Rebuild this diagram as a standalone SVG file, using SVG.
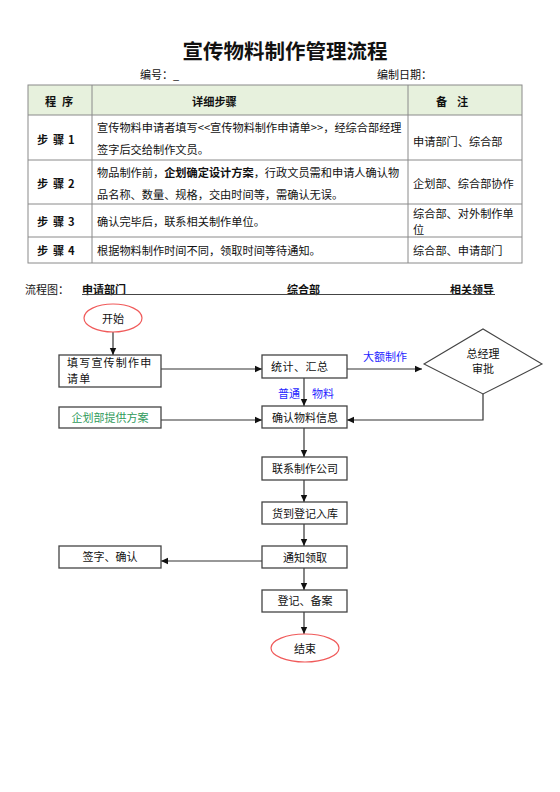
<svg xmlns="http://www.w3.org/2000/svg" width="560" height="792" viewBox="0 0 560 792">
<style>
text{font-family:"Noto Sans CJK SC","Liberation Sans",sans-serif;font-size:11px;fill:#111;dominant-baseline:central}
.title{font-size:20.5px;font-weight:bold;text-anchor:middle}
.t{font-size:11.2px}
.b{font-weight:bold}
.c{text-anchor:middle}
.tl{fill:none;stroke:#8a8a8a;stroke-width:1}
.box{fill:#fff;stroke:#444;stroke-width:1.3}
.ell{fill:#fff;stroke:#f05a5a;stroke-width:1.2}
.con{fill:none;stroke:#333;stroke-width:1.2}
.blue{fill:#1f1fff}
.green{fill:#2e9a5a}
</style>
<defs>
<marker id="ar" markerWidth="8" markerHeight="8" refX="7" refY="4" orient="auto" markerUnits="userSpaceOnUse">
<path d="M0,0.8 L7,4 L0,7.2 Z" fill="#111"/>
</marker>
</defs>
<rect width="560" height="792" fill="#fff"/>
<g id="header">
<text class="title" x="285" y="50">宣传物料制作管理流程</text>
<text x="140" y="74">编号：_</text>
<text x="377" y="74">编制日期：</text>
</g>
<g id="table">
<rect x="28" y="85" width="494" height="30" fill="#e7f1dd"/>
<rect class="tl" x="28" y="85" width="494" height="178"/>
<line class="tl" x1="92" y1="85" x2="92" y2="263"/>
<line class="tl" x1="408" y1="85" x2="408" y2="263"/>
<line class="tl" x1="28" y1="115" x2="522" y2="115"/>
<line class="tl" x1="28" y1="160" x2="522" y2="160"/>
<line class="tl" x1="28" y1="204" x2="522" y2="204"/>
<line class="tl" x1="28" y1="237" x2="522" y2="237"/>
<text class="b t" y="101"><tspan x="45">程</tspan><tspan x="62">序</tspan></text>
<text class="b t" x="192" y="101">详细步骤</text>
<text class="b t" y="101"><tspan x="436">备</tspan><tspan x="457">注</tspan></text>
<text class="b t" y="139"><tspan x="37">步</tspan><tspan x="53">骤</tspan><tspan x="68">1</tspan></text>
<text class="t" x="97" y="127">宣传物料申请者填写&lt;&lt;宣传物料制作申请单&gt;&gt;，经综合部经理</text>
<text class="t" x="97" y="149">签字后交给制作文员。</text>
<text class="t" x="413" y="141">申请部门、综合部</text>
<text class="b t" y="183"><tspan x="37">步</tspan><tspan x="53">骤</tspan><tspan x="68">2</tspan></text>
<text class="t" x="97" y="172">物品制作前，<tspan class="b">企划确定设计方案</tspan>，行政文员需和申请人确认物</text>
<text class="t" x="97" y="194">品名称、数量、规格，交由时间等，需确认无误。</text>
<text class="t" x="413" y="183">企划部、综合部协作</text>
<text class="b t" y="221"><tspan x="37">步</tspan><tspan x="53">骤</tspan><tspan x="68">3</tspan></text>
<text class="t" x="97" y="221">确认完毕后，联系相关制作单位。</text>
<text class="t" x="413" y="213">综合部、对外制作单</text>
<text class="t" x="413" y="229">位</text>
<text class="b t" y="250"><tspan x="37">步</tspan><tspan x="53">骤</tspan><tspan x="68">4</tspan></text>
<text class="t" x="97" y="250">根据物料制作时间不同，领取时间等待通知。</text>
<text class="t" x="413" y="250">综合部、申请部门</text>
</g>
<g id="lanes">
<text x="25" y="289">流程图：</text>
<text class="b" x="82" y="289">申请部门</text>
<text class="b" x="287" y="289">综合部</text>
<text class="b" x="450" y="289">相关领导</text>
<line x1="82" y1="294.5" x2="495" y2="294.5" stroke="#444" stroke-width="1"/>
</g>
<g id="connectors">
<line class="con" x1="113" y1="332" x2="113" y2="355" marker-end="url(#ar)"/>
<line class="con" x1="161" y1="369" x2="262" y2="369" marker-end="url(#ar)"/>
<line class="con" x1="304" y1="378" x2="304" y2="406" marker-end="url(#ar)"/>
<line class="con" x1="347" y1="369" x2="422" y2="369" marker-end="url(#ar)"/>
<polyline class="con" points="483,394 483,420 347,420" marker-end="url(#ar)"/>
<line class="con" x1="161" y1="420" x2="262" y2="420" marker-end="url(#ar)"/>
<line class="con" x1="304" y1="428" x2="304" y2="457" marker-end="url(#ar)"/>
<line class="con" x1="304" y1="480" x2="304" y2="502" marker-end="url(#ar)"/>
<line class="con" x1="304" y1="524" x2="304" y2="546" marker-end="url(#ar)"/>
<line class="con" x1="263" y1="561" x2="161" y2="561" marker-end="url(#ar)"/>
<line class="con" x1="304" y1="568" x2="304" y2="590" marker-end="url(#ar)"/>
<line class="con" x1="304" y1="612" x2="304" y2="634" marker-end="url(#ar)"/>
<text class="blue" x="363" y="356">大额制作</text>
<text class="blue" x="278" y="393">普通</text>
<text class="blue" x="312" y="393">物料</text>
</g>
<g id="start">
<ellipse class="ell" cx="113" cy="318" rx="29" ry="14"/>
<text class="c" x="113" y="318">开始</text>
</g>
<g id="fill-form">
<rect class="box" x="59" y="355" width="102" height="32"/>
<text x="67" y="362" letter-spacing="1.2">填写宣传制作申</text>
<text x="67" y="378" letter-spacing="1.2">请单</text>
</g>
<g id="summary">
<rect class="box" x="262" y="355" width="85" height="23"/>
<text x="271" y="366" letter-spacing="0.5">统计、汇总</text>
</g>
<g id="approve">
<polygon points="424,364 483,329 542,364 483,394" fill="#fff" stroke="#444" stroke-width="1.1"/>
<text class="c" x="483" y="353">总经理</text>
<text class="c" x="483" y="368">审批</text>
</g>
<g id="plan">
<rect class="box" x="59" y="407" width="102" height="21"/>
<text class="c green" x="110" y="417">企划部提供方案</text>
</g>
<g id="confirm">
<rect class="box" x="262" y="406" width="85" height="22"/>
<text class="c" x="305" y="417">确认物料信息</text>
</g>
<g id="contact">
<rect class="box" x="262" y="457" width="85" height="23"/>
<text class="c" x="305" y="468">联系制作公司</text>
</g>
<g id="arrive">
<rect class="box" x="262" y="502" width="85" height="22"/>
<text class="c" x="305" y="513">货到登记入库</text>
</g>
<g id="notify">
<rect class="box" x="262" y="546" width="85" height="22"/>
<text class="c" x="305" y="557">通知领取</text>
</g>
<g id="sign">
<rect class="box" x="59" y="546" width="102" height="22"/>
<text class="c" x="110" y="556">签字、确认</text>
</g>
<g id="record">
<rect class="box" x="262" y="590" width="85" height="22"/>
<text class="c" x="305" y="600">登记、备案</text>
</g>
<g id="end">
<ellipse class="ell" cx="305" cy="648" rx="34" ry="14"/>
<text class="c" x="305" y="648">结束</text>
</g>
</svg>
